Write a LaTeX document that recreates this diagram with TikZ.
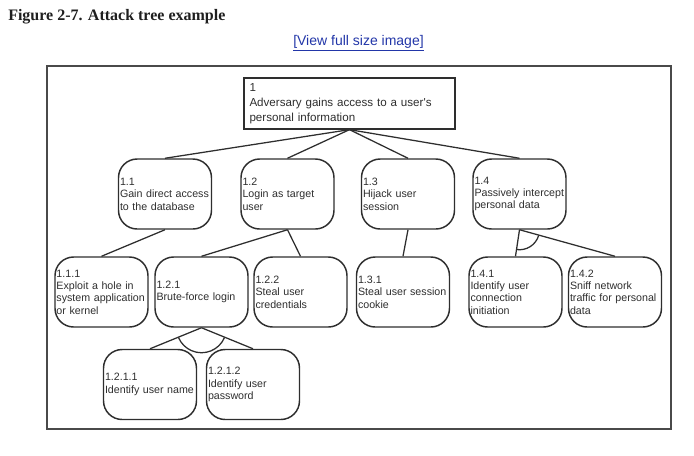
\documentclass[tikz,border=0pt]{standalone}
\usepackage{fontspec}
\setmainfont{Liberation Serif}
\newfontfamily\arialf{Liberation Sans}
\usetikzlibrary{calc}
\definecolor{ink}{HTML}{2E2E2E}
\definecolor{framegray}{HTML}{4A4A4A}
\definecolor{linkblue}{HTML}{2236A8}
\hyphenpenalty=10000
\exhyphenpenalty=10000
\begin{document}
\begin{tikzpicture}[x=0.75pt,y=-0.75pt,
  leaf/.style={draw=ink, line width=1.1pt, rounded corners=14pt,
    minimum width=69.75pt, minimum height=52.5pt, text width=67.5pt,
    inner sep=1pt, align=left,
    font=\arialf\fontsize{8}{9.3}\selectfont,
    text=ink},
  goal/.style={draw=ink, line width=0.95pt, minimum width=158.25pt,
    minimum height=38.25pt, text width=150pt, inner xsep=3.75pt, inner ysep=2pt,
    align=left, font=\arialf\fontsize{8.7}{11.4}\selectfont, text=ink},
  edge/.style={draw=ink, line width=0.95pt},
  andarc/.style={draw=ink, line width=0.95pt},
  frame/.style={draw=framegray, line width=1.3pt}]
\useasboundingbox (0,0) rectangle (694,455);

% title and link
\node[anchor=base west, inner sep=0pt, text=black!88, font=\fontsize{12}{14}\selectfont\bfseries]
  (title) at (8,20) {Figure 2-7. Attack tree example};
\node[anchor=base west, inner sep=0pt, text=linkblue, font=\arialf\fontsize{10.5}{12}\selectfont]
  (link) at (293,45) {\underline{[View full size image]}};

% outer frame
\draw[frame] (47,66) rectangle (671,429);

% root
\node[goal] (n1) at (349.5,103.5) {1\\Adversary gains access to a user's\\personal information};

% row 1
\node[leaf] (n11) at (165,194) {1.1\\Gain direct access\\to the database};
\node[leaf] (n12) at (287.5,194) {1.2\\Login as target\\user};
\node[leaf] (n13) at (408,194) {1.3\\Hijack user\\session};
\node[leaf] (n14) at (519.5,194) {1.4\\Passively intercept\\personal data};

% row 2
\node[leaf] (n111) at (101.5,292) {1.1.1\\Exploit a hole in\\system application\\or kernel};
\node[leaf] (n121) at (201.5,292) {1.2.1\\Brute-force login};
\node[leaf] (n122) at (300.5,292) {1.2.2\\Steal user\\credentials};
\node[leaf] (n131) at (403,292) {1.3.1\\Steal user session\\cookie};
\node[leaf] (n141) at (515.5,292) {1.4.1\\Identify user\\connection\\initiation};
\node[leaf] (n142) at (615,292) {1.4.2\\Sniff network\\traffic for personal\\data};

% row 3
\node[leaf] (n1211) at (150,384.5) {1.2.1.1\\Identify user name};
\node[leaf] (n1212) at (253,384.5) {1.2.1.2\\Identify user\\password};

% connectors
\draw[edge] (n1.south) -- (n11.north);
\draw[edge] (n1.south) -- (n12.north);
\draw[edge] (n1.south) -- (n13.north);
\draw[edge] (n1.south) -- (n14.north);
\draw[edge] (n11.south) -- (n111.north);
\draw[edge] (n12.south) -- (n121.north);
\draw[edge] (n12.south) -- (n122.north);
\draw[edge] (n13.south) -- (n131.north);
\draw[edge] (n14.south) -- (n141.north);
\draw[edge] (n14.south) -- (n142.north);
\draw[edge] (n121.south) -- (n1211.north);
\draw[edge] (n121.south) -- (n1212.north);

% AND arcs
\draw[andarc] ($(n121.south)+(-23.1:18.75pt)$) arc[start angle=-23.1, end angle=-156.9, radius=18.75pt];
\draw[andarc] ($(n14.south)+(-16.3:15pt)$) arc[start angle=-16.3, end angle=-98.1, radius=15pt];
\end{tikzpicture}
\end{document}
